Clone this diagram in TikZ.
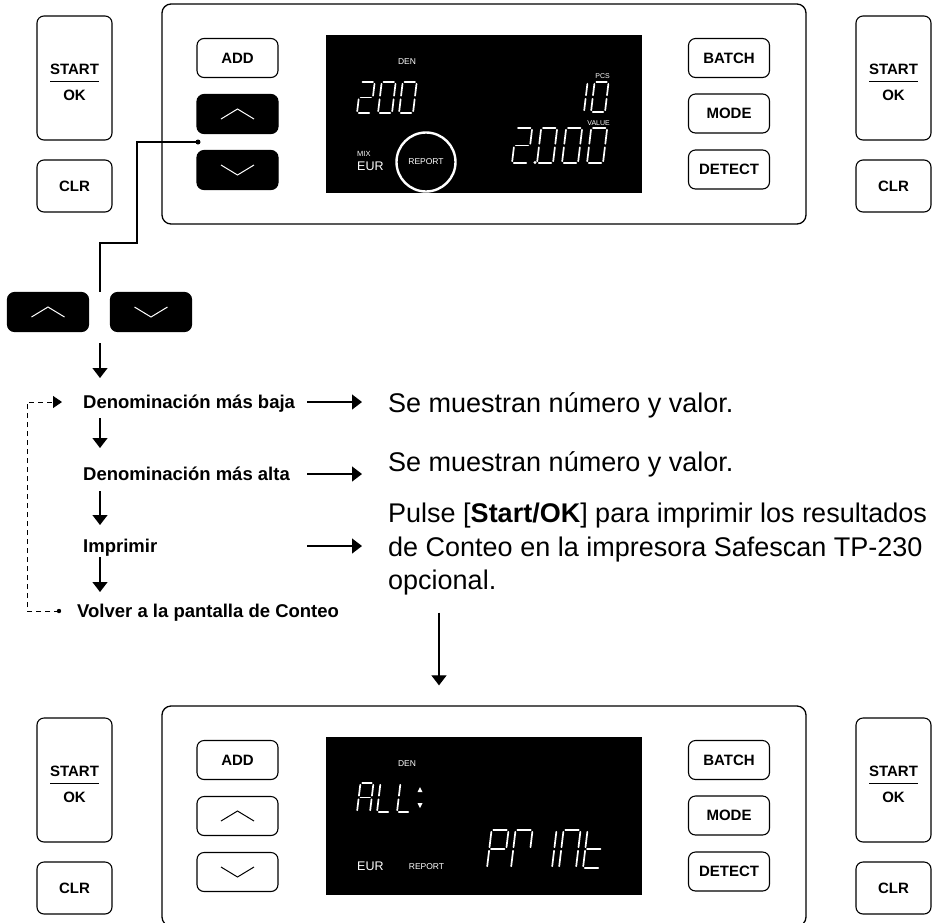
\documentclass[tikz,border=0pt]{standalone}
\usepackage{fontspec}
\setmainfont{Liberation Sans}
\usetikzlibrary{arrows.meta, positioning}
\setlength{\arrayrulewidth}{1pt}

% seven segment digit: x, y (bottom left), width, height, segments
\newcommand{\segdigit}[5]{%
  \begin{scope}[shift={(#1,#2)}, xslant=0.12]
    \def\sgw{#3}\def\sgh{#4}
    \foreach \s in {#5}{
      \if a\s \draw[segline] (1.8,-\sgh) -- (\sgw-1.8,-\sgh); \fi
      \if b\s \draw[segline] (\sgw,-\sgh+1.8) -- (\sgw,-\sgh/2-1.8); \fi
      \if c\s \draw[segline] (\sgw,-\sgh/2+1.8) -- (\sgw,-1.8); \fi
      \if d\s \draw[segline] (1.8,0) -- (\sgw-1.8,0); \fi
      \if e\s \draw[segline] (0,-\sgh/2+1.8) -- (0,-1.8); \fi
      \if f\s \draw[segline] (0,-\sgh+1.8) -- (0,-\sgh/2-1.8); \fi
      \if g\s \draw[segline] (1.8,-\sgh/2) -- (\sgw-1.8,-\sgh/2); \fi
    }
  \end{scope}}
\newcommand{\startok}{\begin{tabular}{@{}c@{}}\rule{0pt}{24pt}START\\[1pt]\hline\rule{0pt}{19pt}OK\end{tabular}}

\begin{document}
\begin{tikzpicture}[x=1pt, y=-1pt,
        % styles
        keybox/.style = {
                draw, rounded corners=7pt, line width=1.1pt,
                minimum width=81pt, minimum height=39pt, inner sep=0pt,
                font=\bfseries\fontsize{15}{17}\selectfont
            },
        darkkey/.style = {keybox, fill=black},
        tallkey/.style = {keybox, minimum width=75pt, minimum height=124pt},
        clrkey/.style = {keybox, minimum width=75pt, minimum height=52pt},
        panelbox/.style = {
                draw, rounded corners=9pt, line width=1.3pt,
                minimum width=644pt, minimum height=220pt
            },
        lcdbox/.style = {fill=black, minimum width=316pt, minimum height=158pt, inner sep=0pt},
        lcd/.style = {text=white, inner sep=0pt, font=\fontsize{8.5}{10}\selectfont},
        segline/.style = {white, line width=1.7pt, line cap=round},
        chev/.style = {line width=1pt},
        menuitem/.style = {
                anchor=west, inner sep=0pt, text height=13pt, text depth=0pt,
                font=\bfseries\fontsize{18.5}{21}\selectfont
            },
        note/.style = {
                anchor=base west, inner sep=0pt, align=left,
                font=\fontsize{27}{33.5}\selectfont
            },
        arrow/.style = {line width=1.2pt, -{Triangle[width=15pt,length=10pt]}},
        backloop/.style = {
                line width=0.9pt, dash pattern=on 5pt off 4pt,
                -{Triangle[width=12pt,length=9pt]}
            },
        wire/.style = {line width=1.1pt}]

    \useasboundingbox (0,0) rectangle (938,922);

    % the two key panels
    \foreach \py/\sfx/\ak/\cc in {0/a/darkkey/white, 702/b/keybox/black}{
        \begin{scope}[shift={(0,\py)}]
            \node[panelbox] (panel\sfx) at (484,114) {};
            \node[lcdbox] (lcd\sfx) at (484,114) {};
            \node[tallkey] (startl\sfx) at (74.5,78) {\startok};
            \node[clrkey] (clrl\sfx) at (74.5,186) {CLR};
            \node[tallkey] (startr\sfx) at (893.5,78) {\startok};
            \node[clrkey] (clrr\sfx) at (893.5,186) {CLR};
            \node[keybox] (add\sfx) at (237.5,58) {ADD};
            \node[\ak] (up\sfx) at (237.5,114) {};
            \node[\ak] (down\sfx) at (237.5,170) {};
            \node[keybox] (batch\sfx) at (729,58) {BATCH};
            \node[keybox] (mode\sfx) at (729,113.5) {MODE};
            \node[keybox] (detect\sfx) at (729,169.5) {DETECT};
            \draw[chev, \cc] (up\sfx) ++(-16.5,5) -- ++(16.5,-10) -- ++(16.5,10);
            \draw[chev, \cc] (down\sfx) ++(-16.5,-5) -- ++(16.5,10) -- ++(16.5,-10);
        \end{scope}
    }

    % top display
    \node[lcd] (den) at (407,62) {DEN};
    \segdigit{357}{113}{14}{31}{a,b,g,e,d}
    \segdigit{378}{113}{14}{31}{a,b,c,d,e,f}
    \segdigit{399}{113}{14}{31}{a,b,c,d,e,f}
    \node[lcd, anchor=east, font=\fontsize{7}{8}\selectfont] (pcs) at (610,76) {PCS};
    \segdigit{570}{112}{14}{30}{b,c}
    \segdigit{591}{112}{14}{30}{a,b,c,d,e,f}
    \node[lcd, anchor=east, font=\fontsize{7}{8}\selectfont] (value) at (610,123) {VALUE};
    \segdigit{512}{163}{16}{35}{a,b,g,e,d}
    \fill[white] (535,162.5) circle (1.6pt);
    \segdigit{537}{163}{16}{35}{a,b,c,d,e,f}
    \segdigit{562}{163}{16}{35}{a,b,c,d,e,f}
    \segdigit{587}{163}{16}{35}{a,b,c,d,e,f}
    \node[lcd, anchor=west, font=\fontsize{7.5}{8}\selectfont] (mix) at (357,154) {MIX};
    \node[lcd, anchor=west, font=\fontsize{12.5}{14}\selectfont] (eur) at (357,166) {EUR};
    \node[lcd, circle, draw=white, line width=2.4pt, minimum size=59pt] (report) at (426,162) {REPORT};

    % bottom display
    \node[lcd] (den2) at (407,764) {DEN};
    \segdigit{357}{812}{13}{29}{a,b,c,e,f,g}
    \segdigit{377}{812}{13}{29}{d,e,f}
    \segdigit{397}{812}{13}{29}{d,e,f}
    \fill[white] (420,787) -- (422.5,792) -- (417.5,792) -- cycle;
    \fill[white] (420,808) -- (422.5,803) -- (417.5,803) -- cycle;
    \node[lcd, anchor=west, font=\fontsize{12.5}{14}\selectfont] (eur2) at (357,866) {EUR};
    \node[lcd] (report2) at (426.5,867) {REPORT};
    \segdigit{487}{868}{17}{38}{a,b,f,g,e}
    \segdigit{511}{868}{17}{38}{a,b,e,f}
    \segdigit{535}{868}{17}{38}{b,c}
    \segdigit{559}{868}{17}{38}{a,b,c,e,f}
    \segdigit{583}{868}{17}{38}{d,e,f,g}

    % arrow keys taken out
    \node[darkkey] (upkey) at (48,312) {};
    \node[darkkey] (downkey) at (151,312) {};
    \draw[chev, white] (upkey) ++(-16.5,5) -- ++(16.5,-10) -- ++(16.5,10);
    \draw[chev, white] (downkey) ++(-16.5,-5) -- ++(16.5,10) -- ++(16.5,-10);
    \coordinate (pick) at (198,142);
    \coordinate (keys) at (100,292);
    \draw[wire] (pick) -| ++(-61,101) -| (keys);
    \fill (pick) circle (2.5pt);

    % menu
    \node[menuitem] (lowden) at (83,402) {Denominación más baja};
    \node[menuitem] (highden) at (83,474) {Denominación más alta};
    \node[menuitem] (printit) at (83,546) {Imprimir};
    \node[menuitem] (back) at (77,611) {Volver a la pantalla de Conteo};

    \node[note] (res1) at (388,412.7) {Se muestran número y valor.};
    \node[note] (res2) at (388,471.7) {Se muestran número y valor.};
    \node[note, anchor=north west] (res3) at (388,503) {Pulse [\textbf{Start/OK}] para imprimir los resultados\\de Conteo en la impresora Safescan TP-230\\opcional.};

    \coordinate (outcol) at (307,0);
    \coordinate (incol) at (362,0);
    \coordinate (dropcol) at (439,0);

    % arrows
    \draw [arrow, shorten <=51pt, shorten >=24pt] (keys) -- (lowden -| keys);
    \draw [arrow, shorten <=16pt, shorten >=26pt] (lowden -| keys) -- (highden -| keys);
    \draw [arrow, shorten <=17pt, shorten >=21pt] (highden -| keys) -- (printit -| keys);
    \draw [arrow, shorten <=11pt, shorten >=19pt] (printit -| keys) -- (back -| keys);
    \draw [arrow] (lowden -| outcol) -- (lowden -| incol);
    \draw [arrow] (highden -| outcol) -- (highden -| incol);
    \draw [arrow] (printit -| outcol) -- (printit -| incol);
    \draw [arrow, shorten <=17pt, shorten >=20pt] (res3.south -| dropcol) -- (panelb.north -| dropcol);

    \coordinate (backdot) at ([xshift=-18pt]back.west);
    \draw [backloop] (backdot) -| ([xshift=-56pt]lowden.west) -- ([xshift=-21pt]lowden.west);
    \fill (backdot) circle (2.2pt);

\end{tikzpicture}
\end{document}
